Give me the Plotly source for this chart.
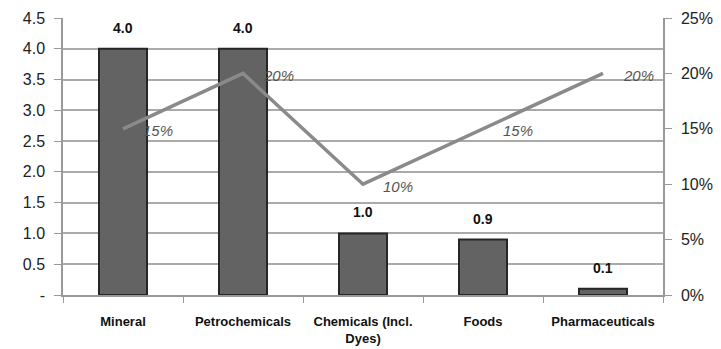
import plotly.graph_objects as go

categories = ["Mineral", "Petrochemicals", "Chemicals (Incl.<br>Dyes)", "Foods", "Pharmaceuticals"]
bar_values = [4.0, 4.0, 1.0, 0.9, 0.1]
share_values = [15, 20, 10, 15, 20]
left_ticks = [0, 0.5, 1.0, 1.5, 2.0, 2.5, 3.0, 3.5, 4.0, 4.5]
left_labels = ["-", "0.5", "1.0", "1.5", "2.0", "2.5", "3.0", "3.5", "4.0", "4.5"]
right_ticks = [0, 5, 10, 15, 20, 25]
right_labels = ["0%", "5%", "10%", "15%", "20%", "25%"]

font_family = "Liberation Sans, Arial, sans-serif"

fig = go.Figure()

fig.add_trace(go.Bar(
    x=categories, y=bar_values, width=0.4,
    marker=dict(color="#636363", line=dict(color="#262626", width=2)),
    showlegend=False,
))

fig.add_trace(go.Scatter(
    x=categories, y=share_values, yaxis="y2", mode="lines",
    line=dict(color="#8a8a8a", width=3.5), showlegend=False,
))

# value labels above each bar
for c, v in zip(categories, bar_values):
    fig.add_annotation(
        x=c, y=v, xref="x", yref="y", text=f"<b>{v:.1f}</b>",
        showarrow=False, xanchor="center", yanchor="bottom", yshift=11,
        font=dict(family=font_family, size=14, color="#111111"),
    )

# share labels to the right of each line vertex
for c, v in zip(categories, share_values):
    fig.add_annotation(
        x=c, y=v, xref="x", yref="y2", text=f"<i>{v}%</i>",
        showarrow=False, xanchor="left", yanchor="middle",
        xshift=18, yshift=-2,
        font=dict(family=font_family, size=15, color="#555555"),
    )

fig.update_layout(
    width=721, height=349,
    margin=dict(l=63, r=58, t=18, b=54),
    paper_bgcolor="white", plot_bgcolor="white",
    font=dict(family=font_family, color="#222222"),
    xaxis=dict(
        showline=True, linecolor="#999999", linewidth=1.5,
        ticks="outside", tickson="boundaries", ticklen=6, tickcolor="#999999",
        tickfont=dict(size=13, color="#111111"),
        tickvals=categories,
        ticktext=[f"<b>{c}</b>" for c in categories],
        ticklabelstandoff=14, automargin=False,
        showgrid=False,
    ),
    yaxis=dict(
        range=[0, 4.5], tickvals=left_ticks, ticktext=left_labels,
        showline=True, linecolor="#999999", linewidth=1.5,
        ticks="outside", ticklen=7, tickcolor="#999999",
        showgrid=True, gridcolor="#aaaaaa", gridwidth=1.5,
        tickfont=dict(size=16, color="#222222"),
        ticklabelstandoff=6, zeroline=False, automargin=False,
    ),
    yaxis2=dict(
        range=[0, 25], tickvals=right_ticks, ticktext=right_labels,
        overlaying="y", side="right",
        showline=True, linecolor="#999999", linewidth=1.5,
        ticks="outside", ticklen=7, tickcolor="#999999",
        showgrid=False, zeroline=False, automargin=False,
        tickfont=dict(size=16, color="#222222"),
        ticklabelstandoff=6,
    ),
)

fig.write_html("out.html")
